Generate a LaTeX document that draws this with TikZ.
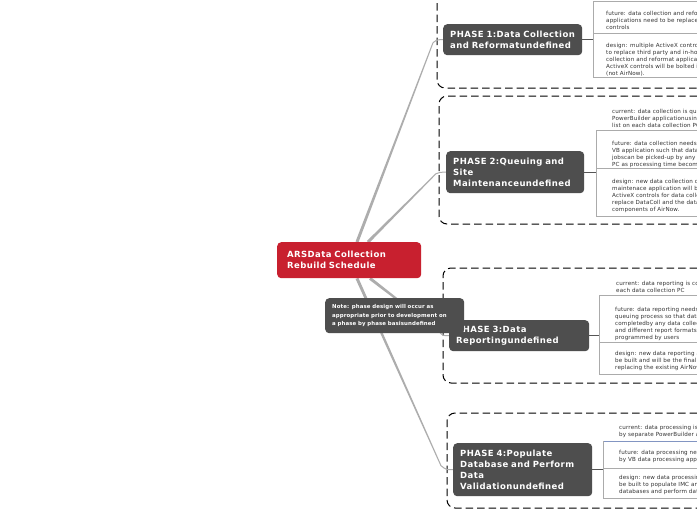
\documentclass[tikz,border=0pt]{standalone}
\usepackage{fontspec}
\setmainfont{DejaVu Sans}
\newfontfamily\phfont[LetterSpace=5]{DejaVu Sans}
\newfontfamily\notefont[LetterSpace=2]{DejaVu Sans}
\newfontfamily\leaffont[LetterSpace=2.5]{DejaVu Sans}
\usetikzlibrary{calc,backgrounds}
\definecolor{ctrred}{HTML}{C8202F}
\definecolor{phgray}{HTML}{4E4E4E}
\definecolor{linegray}{HTML}{ADADAD}
\definecolor{leafline}{HTML}{ABABAB}
\definecolor{leaftext}{HTML}{333333}
\definecolor{blueline}{HTML}{8295C2}
\definecolor{stemgray}{HTML}{555555}
\begin{document}
\begin{tikzpicture}[x=1pt,y=-1pt,
  phasebox/.style={fill=phgray, rounded corners=4pt, text=white,
    font=\phfont\fontsize{8.5}{11}\selectfont\bfseries, align=left, anchor=north west,
    inner xsep=7pt, inner ysep=0pt, text width=125pt},
  ctrbox/.style={fill=ctrred, rounded corners=4pt, text=white,
    font=\phfont\fontsize{8.5}{11}\selectfont\bfseries, align=left, anchor=north west,
    inner xsep=10pt, inner ysep=0pt, text width=124pt, minimum height=36pt},
  notebox/.style={fill=phgray, rounded corners=4pt, text=white,
    font=\notefont\fontsize{5.4}{8.5}\selectfont\bfseries, align=left, anchor=north west,
    inner xsep=7pt, inner ysep=0pt, text width=125pt, minimum height=35pt},
  leaf/.style={text=leaftext, font=\leaffont\fontsize{5.6}{7}\selectfont, align=left,
    anchor=north west, inner sep=0pt},
  dashbox/.style={draw=black, line width=1pt, dash pattern=on 7.5pt off 4pt, rounded corners=8pt},
  leafrule/.style={draw=leafline, line width=0.6pt},
  stem/.style={draw=stemgray, line width=0.9pt},
  branch/.style={draw=linegray, line width=1pt}
]
\useasboundingbox (0,0) rectangle (697,520);

% nodes
\node[ctrbox] (ctr) at (277,242) {ARSData Collection\\Rebuild Schedule};
\node[phasebox, minimum height=31pt] (p1) at (443,24) {PHASE 1:Data Collection\\and Reformatundefined};
\node[phasebox, minimum height=42pt, text width=124pt] (p2) at (446,151) {PHASE 2:Queuing and\\Site\\Maintenanceundefined};
\node[phasebox, minimum height=31pt, text width=126pt] (p3) at (449,320) {PHASE 3:Data\\Reportingundefined};
\node[phasebox, minimum height=53pt] (p4) at (453,443) {PHASE 4:Populate\\Database and Perform\\Data\\Validationundefined};
\node[notebox] (note) at (325,298) {Note: phase design will occur as\\appropriate prior to development on\\a phase by phase basisundefined};

\begin{scope}[on background layer]
\fill[white] (0,0) rectangle (697,520);
% dashed group frames
\draw[dashbox] (437,-20) -- (437,88) -- (720,88);
\draw[dashbox] (720,96) -- (439,96) -- (439,224) -- (720,224);
\draw[dashbox] (720,268) -- (443,268) -- (443,383) -- (720,383);
\draw[dashbox] (720,413) -- (447,413) -- (447,508) -- (720,508);
% branches from the centre (tapered)
\coordinate (a1) at ($(ctr.north west)+(80,0)$);
\coordinate (k1) at ($(p1.west)+(-10,3)$);
\coordinate (a2) at ($(ctr.north west)+(91,0)$);
\coordinate (k2) at ($(p2.west)+(-10,1.5)$);
\coordinate (a3) at ($(ctr.south west)+(93,0)$);
\coordinate (k3) at ($(p3.west)+(-10,-4)$);
\coordinate (a4) at ($(ctr.south west)+(80,0)$);
\coordinate (k4) at ($(p4.west)+(-12,-4)$);
\foreach \a/\k in {a1/k1,a2/k2,a3/k3,a4/k4}{
  \fill[linegray] ($(\a)!1.5pt!90:(\k)$) -- ($(\k)!0.5pt!-90:(\a)$) -- ($(\k)!0.5pt!90:(\a)$) -- ($(\a)!1.5pt!-90:(\k)$) -- cycle;
}
\draw[branch] (k1) .. controls ($(p1.west)+(-6,0)$) .. (p1.west);
\draw[branch] (k2) .. controls ($(p2.west)+(-6,0)$) .. (p2.west);
\draw[branch] (k3) .. controls ($(p3.west)+(-6,0)$) .. (p3.west);
\draw[branch] (k4) .. controls ($(p4.west)+(-7,0)$) .. (p4.west);
\end{scope}

% phase 1 leaves
\coordinate (b1) at (593,0);
\draw[stem] (p1.east) -- (p1.east -| b1);
\draw[leafrule] (593,1) -- (720,1) (593,33) -- (720,33) (593,77) -- (720,77) (593,1) -- (593,77);
\node[leaf] (l1f) at (606,11.5) {future: data collection and refor\\applications need to be replaced\\controls};
\node[leaf] (l1d) at (606,43) {design: multiple ActiveX control\\to replace third party and in-ho\\collection and reformat applicat\\ActiveX controls will be bolted i\\(not AirNow).};

% phase 2 leaves
\coordinate (b2) at (596,0);
\draw[stem] (p2.east) -- (p2.east -| b2);
\draw[leafrule] (596,130) -- (720,130) (596,168) -- (720,168) (596,216) -- (720,216) (596,130) -- (596,216);
\node[leaf] (l2c) at (612,109.5) {current: data collection is queu\\PowerBuilder applicationusing a\\list on each data collection PC};
\node[leaf] (l2f) at (612,141.5) {future: data collection needs to\\VB application such that data c\\jobscan be picked-up by any da\\PC as processing time becomes};
\node[leaf] (l2d) at (612,179.5) {design: new data collection qu\\maintenace application will be\\ActiveX controls for data collec\\replace DataColl and the data\\components of AirNow.};

% phase 3 leaves
\coordinate (b3) at (599,0);
\draw[stem] (p3.east) -- (p3.east -| b3);
\draw[leafrule] (599,295) -- (720,295) (599,342) -- (720,342) (599,374) -- (720,374) (599,295) -- (599,374);
\node[leaf] (l3c) at (616,281.5) {current: data reporting is co\\each data collection PC};
\node[leaf] (l3f) at (615,307.5) {future: data reporting needs t\\queuing process so that data\\completedby any data collecti\\and different report formats c\\programmed by users};
\node[leaf] (l3d) at (615,351.5) {design: new data reporting ap\\be built and will be the final p\\replacing the existing AirNow};

% phase 4 leaves
\coordinate (b4) at (603,0);
\draw[stem] (p4.east) -- (p4.east -| b4);
\draw[draw=blueline, line width=0.6pt] (603,441) -- (720,441);
\draw[leafrule] (603,468) -- (720,468) (603,498) -- (720,498) (603,441) -- (603,498);
\node[leaf] (l4c) at (619,425.5) {current: data processing is c\\by separate PowerBuilder ap};
\node[leaf] (l4f) at (619,450.5) {future: data processing nee\\by VB data processing appli};
\node[leaf] (l4d) at (619,475.5) {design: new data processing\\be built to populate IMC and\\databases and perform data};
\end{tikzpicture}
\end{document}
